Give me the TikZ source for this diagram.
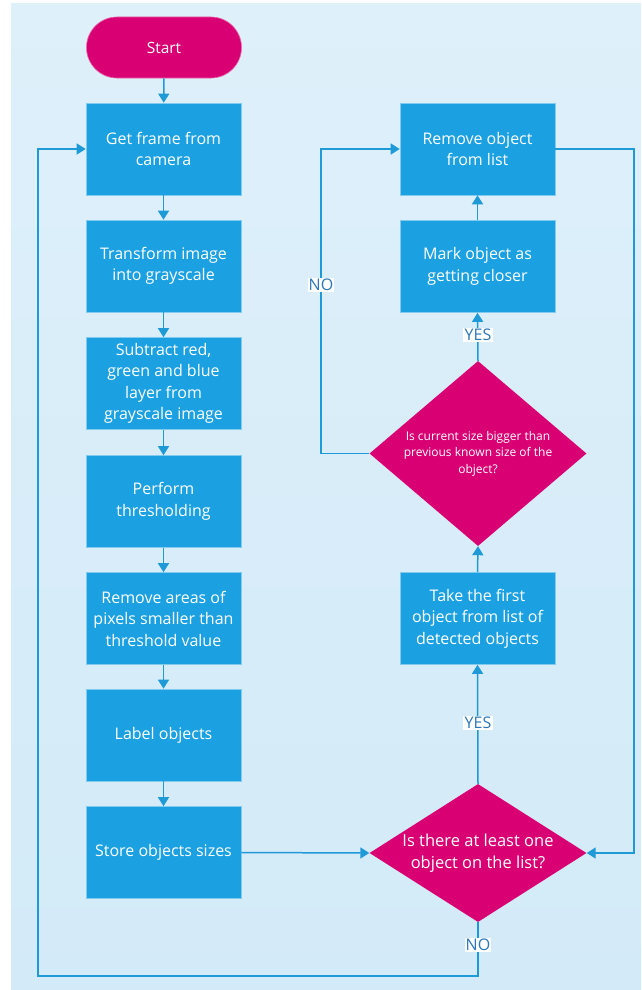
\documentclass[tikz,border=0pt]{standalone}
\usepackage{fontspec}
\setmainfont{Open Sans}
\usetikzlibrary{arrows.meta,shapes.geometric,shapes.misc}
\definecolor{bgtop}{HTML}{DEF0FA}
\definecolor{bgbot}{HTML}{D3EAF8}
\definecolor{boxblue}{HTML}{1BA1E2}
\definecolor{mag}{HTML}{D80073}
\definecolor{ln}{HTML}{1E9AD6}
\definecolor{lbltext}{HTML}{2A78B8}
\begin{document}
\begin{tikzpicture}[x=1pt,y=-1pt,
  box/.style={rectangle, fill=boxblue, draw=boxblue!55!white, line width=0.6pt,
    minimum width=155pt, minimum height=92pt, text=white, align=center,
    font=\fontsize{16}{21.5}\selectfont, inner sep=0pt},
  term/.style={rounded rectangle, fill=mag, draw=mag!60!white, line width=0.6pt,
    minimum width=155pt, minimum height=61pt, text=white,
    font=\fontsize{15.5}{21}\selectfont, inner sep=0pt},
  dec/.style={diamond, fill=mag, draw=none, inner sep=0pt},
  dectext/.style={text=white, align=center, inner sep=0pt},
  conn/.style={draw=ln, line width=1.5pt, -{Triangle[width=11pt,length=9pt]}},
  plain/.style={draw=ln, line width=1.5pt},
  lbl/.style={fill=white, text=lbltext, inner sep=1.2pt, font=\fontsize{16}{18}\selectfont}
]
\useasboundingbox (0,0) rectangle (641,990);
\shade[top color=bgtop, bottom color=bgbot] (11,4) rectangle (641,990);

% left column
\node[term] (start) at (164,47.5) {Start};
\node[box] (b1) at (163.5,149) {Get frame from\\camera};
\node[box] (b2) at (163.5,266) {Transform image\\into grayscale};
\node[box] (b3) at (163.5,383.5) {Subtract red,\\green and blue\\layer from\\grayscale image};
\node[box] (b4) at (163.5,501.5) {Perform\\thresholding};
\node[box] (b5) at (163.5,618.5) {Remove areas of\\pixels smaller than\\threshold value};
\node[box] (b6) at (163.5,735) {Label objects};
\node[box] (b7) at (163.5,852.5) {Store objects sizes};

% right column
\node[box] (rem) at (477.5,149) {Remove object\\from list};
\node[box] (mark) at (477.5,266.5) {Mark object as\\getting closer};
\node[dec, minimum width=217pt, minimum height=185pt] (d1) at (478,453.5) {};
\node[dectext, font=\fontsize{12}{16.5}\selectfont] (d1t) at (478,453.5) {Is current size bigger than\\previous known size of the\\object?};
\node[box] (take) at (477.5,618.5) {Take the first\\object from list of\\detected objects};
\node[dec, minimum width=217pt, minimum height=138pt] (d2) at (478,853) {};
\node[dectext, font=\fontsize{16.5}{22}\selectfont] (d2t) at (478,853) {Is there at least one\\object on the list?};

% loop corner coordinates
\coordinate (cl) at (38,976);
\coordinate (cn) at (321,149);
\coordinate (cr) at (634,149);

% connectors
\draw[conn] (start) -- (b1);
\draw[conn] (b1) -- (b2);
\draw[conn] (b2) -- (b3);
\draw[conn] (b3) -- (b4);
\draw[conn] (b4) -- (b5);
\draw[conn] (b5) -- (b6);
\draw[conn] (b6) -- (b7);
\draw[conn] (b7.east) -- (d2.west);
\draw[conn] (d2.south) |- (cl) |- (b1.west);
\draw[conn] (d2.north) -- (take.south);
\draw[conn] (take.north) -- (d1.south);
\draw[conn] (d1.north) -- (mark.south);
\draw[conn] (mark.north) -- (rem.south);
\draw[conn] (d1.west) -| (cn) -- (rem.west);
\draw[conn] (rem.east) -- (cr) |- (d2.east);

% labels
\node[lbl] (no1) at (478,945) {NO};
\node[lbl] (yes1) at (478,723) {YES};
\node[lbl] (yes2) at (478,335) {YES};
\node[lbl] (no2) at (321,285) {NO};
\end{tikzpicture}
\end{document}
